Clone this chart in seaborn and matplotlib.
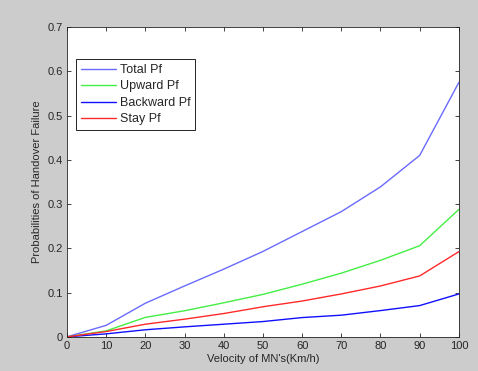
import pandas as pd
import matplotlib
matplotlib.use('Agg')
import matplotlib.pyplot as plt
import seaborn as sns

velocity = [0, 10, 20, 30, 40, 50, 60, 70, 80, 90, 100]
total_pf = [0, 0.026, 0.076, 0.115, 0.153, 0.193, 0.238, 0.283, 0.339, 0.41, 0.575]
upward_pf = [0, 0.0135, 0.044, 0.059, 0.077, 0.096, 0.119, 0.144, 0.173, 0.206, 0.288]
backward_pf = [0, 0.0068, 0.016, 0.0226, 0.0286, 0.0346, 0.0436, 0.049, 0.0594, 0.0707, 0.097]
stay_pf = [0, 0.012, 0.0286, 0.04, 0.0527, 0.068, 0.081, 0.097, 0.115, 0.1377, 0.1926]

names = ['Total Pf', 'Upward Pf', 'Backward Pf', 'Stay Pf']
colors = ['#6a6aff', '#44ee44', '#1010ff', '#ff2a2a']

frames = []
for name, vals in zip(names, [total_pf, upward_pf, backward_pf, stay_pf]):
    frames.append(pd.DataFrame({'velocity': velocity, 'pf': vals, 'series': name}))
df = pd.concat(frames, ignore_index=True)

sns.set_style('ticks')
plt.rcParams['font.family'] = ['Liberation Sans', 'DejaVu Sans']

fig = plt.figure(figsize=(4.78, 3.71), dpi=100)
fig.patch.set_facecolor('#cccccc')
ax = fig.add_axes([0.140, 0.092, 0.820, 0.835])
ax.set_facecolor('white')

sns.lineplot(data=df, x='velocity', y='pf', hue='series', hue_order=names,
             palette=dict(zip(names, colors)), linewidth=1.0, ax=ax)

ax.set_xlim(0, 100)
ax.set_ylim(0, 0.7)
ax.set_xticks(range(0, 101, 10))
ax.set_yticks([0, 0.1, 0.2, 0.3, 0.4, 0.5, 0.6, 0.7])
ax.set_yticklabels(['0', '0.1', '0.2', '0.3', '0.4', '0.5', '0.6', '0.7'])
ax.tick_params(direction='in', top=True, right=True, labelsize=8, length=3, width=0.6, pad=3)
for s in ax.spines.values():
    s.set_linewidth(0.6)
    s.set_color('#222222')

ax.set_xlabel("Velocity of MN's(Km/h)", fontsize=8, labelpad=2)
ax.set_ylabel('Probabilities of Handover Failure', fontsize=8, labelpad=4)

leg = ax.legend(loc='upper left', bbox_to_anchor=(0.023, 0.897), fontsize=9,
                frameon=True, fancybox=False, edgecolor='black', framealpha=1,
                handlelength=2.8, handletextpad=0.3, borderpad=0.4, labelspacing=0.36,
                borderaxespad=0)
leg.get_frame().set_linewidth(0.6)

fig.savefig('out.png', dpi=100, facecolor=fig.get_facecolor())
